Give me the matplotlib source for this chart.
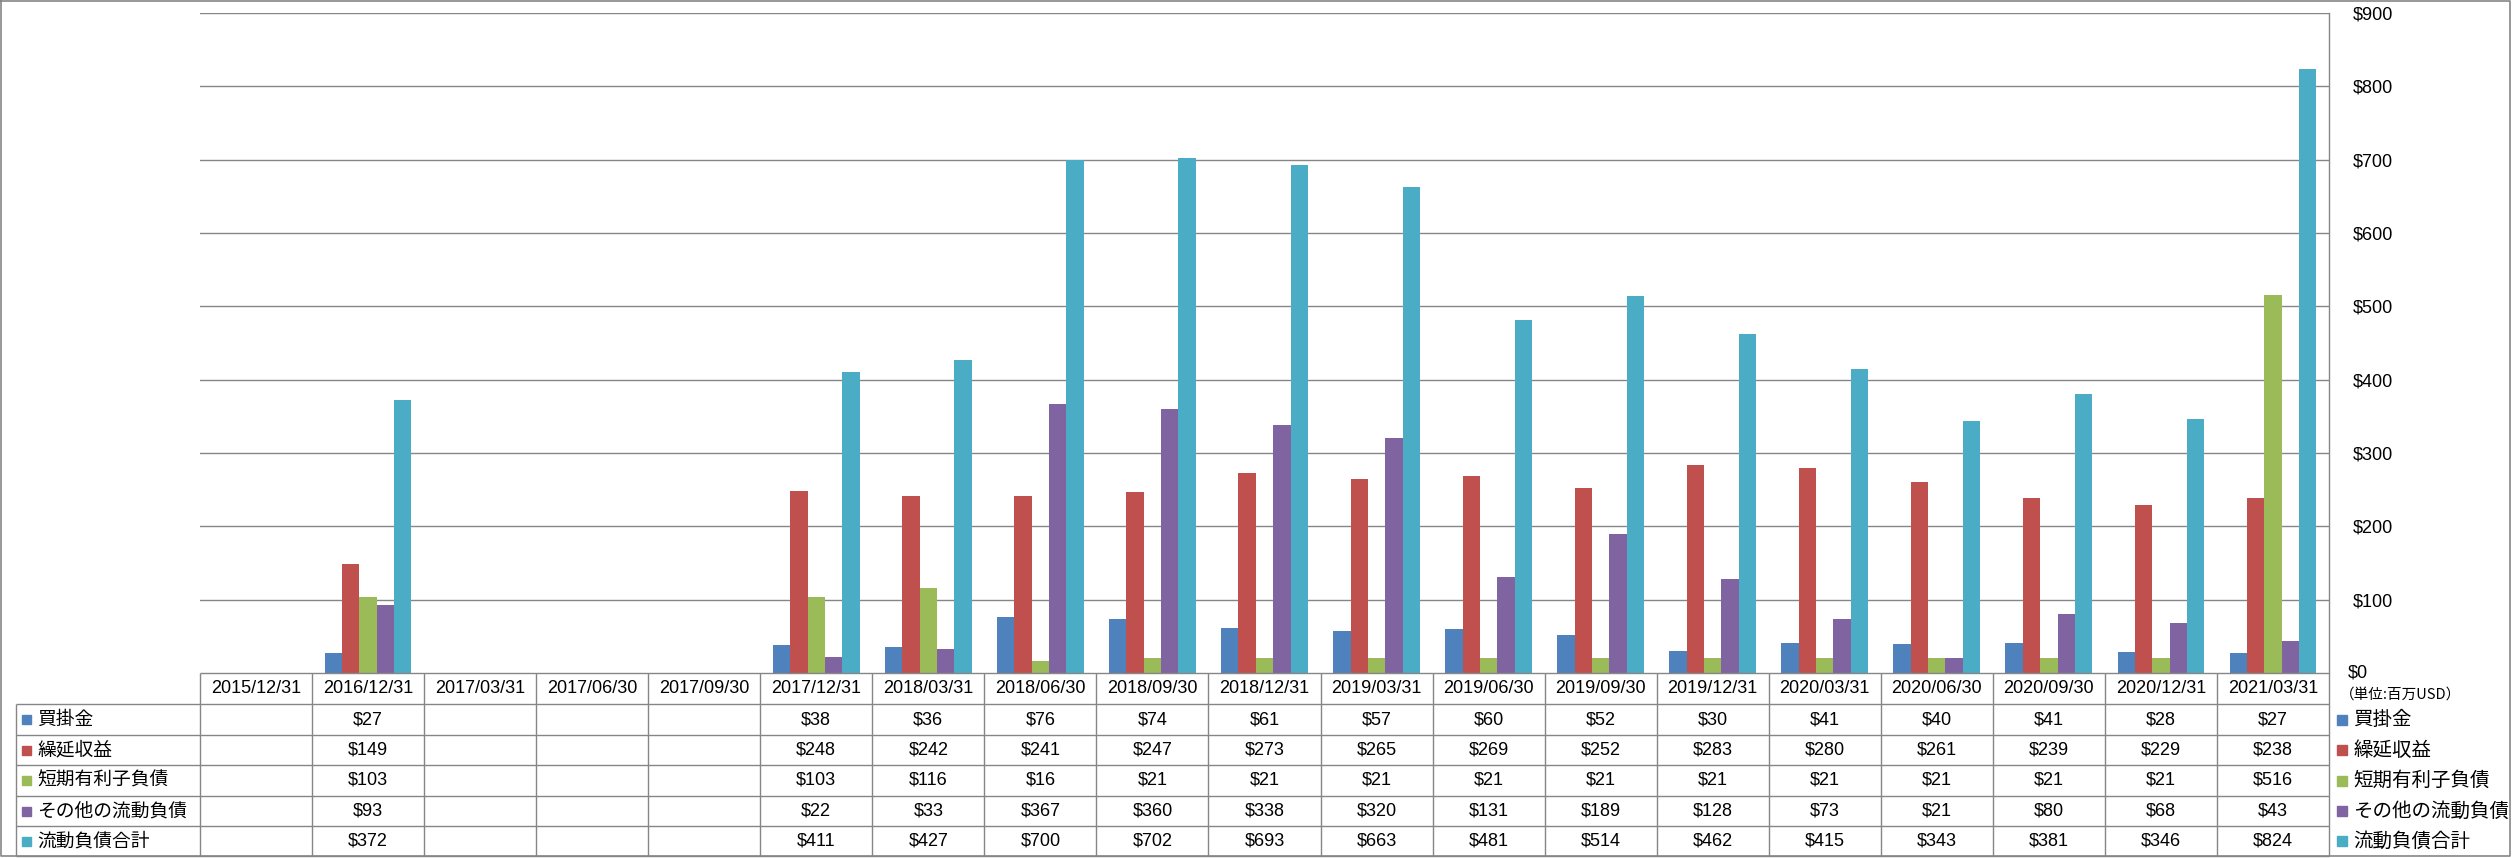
import numpy as np
import matplotlib
matplotlib.use("Agg")
import matplotlib.pyplot as plt

W, H = 2517, 858

dates = ["2015/12/31", "2016/12/31", "2017/03/31", "2017/06/30", "2017/09/30",
         "2017/12/31", "2018/03/31", "2018/06/30", "2018/09/30", "2018/12/31",
         "2019/03/31", "2019/06/30", "2019/09/30", "2019/12/31", "2020/03/31",
         "2020/06/30", "2020/09/30", "2020/12/31", "2021/03/31"]
nan = np.nan
payables = [nan, 27, nan, nan, nan, 38, 36, 76, 74, 61, 57, 60, 52, 30, 41, 40, 41, 28, 27]
deferred = [nan, 149, nan, nan, nan, 248, 242, 241, 247, 273, 265, 269, 252, 283, 280, 261, 239, 229, 238]
short_debt = [nan, 103, nan, nan, nan, 103, 116, 16, 21, 21, 21, 21, 21, 21, 21, 21, 21, 21, 516]
other = [nan, 93, nan, nan, nan, 22, 33, 367, 360, 338, 320, 131, 189, 128, 73, 21, 80, 68, 43]
total = [nan, 372, nan, nan, nan, 411, 427, 700, 702, 693, 663, 481, 514, 462, 415, 343, 381, 346, 824]

names = ["買掛金", "繰延収益", "短期有利子負債", "その他の流動負債", "流動負債合計"]
series = [payables, deferred, short_debt, other, total]
colors = ["#4F81BD", "#C0504D", "#9BBB59", "#8064A2", "#4BACC6"]

plt.rcParams['font.family'] = ['Liberation Sans', 'Noto Sans CJK JP', 'DejaVu Sans']
jp = ['Noto Sans CJK JP', 'DejaVu Sans']
grid_c = "#868686"

fig = plt.figure(figsize=(W / 100, H / 100), dpi=100)

# plot area in pixels
x0, x1 = 200, 2329
ytop, ybot = 13, 673
ax = fig.add_axes([x0 / W, 1 - ybot / H, (x1 - x0) / W, (ybot - ytop) / H])
n = len(dates)
x = np.arange(n)
bw = 0.155
for i, (vals, c) in enumerate(zip(series, colors)):
    ax.bar(x + (i - 2) * bw, vals, width=bw, color=c, zorder=3)

ax.set_xlim(-0.5, n - 0.5)
ax.set_ylim(0, 900)
ax.set_yticks(range(100, 901, 100))
ax.yaxis.tick_right()
ax.set_yticklabels([f"${v}" for v in range(100, 901, 100)], fontsize=13)
ax.tick_params(axis='y', length=0, pad=17)
ax.set_xticks([])
ax.yaxis.grid(True, color=grid_c, lw=1, zorder=0)
for s in ["left", "top", "bottom"]:
    ax.spines[s].set_visible(False)
ax.spines["right"].set_color(grid_c)
ax.spines["right"].set_linewidth(1)

# table overlay in pixel coordinates
t = fig.add_axes([0, 0, 1, 1], facecolor="none")
t.set_xlim(0, W)
t.set_ylim(H, 0)
t.axis("off")

cw = (x1 - x0) / n
rows = [673, 704, 735, 765, 796, 826, 856]
lab_x0 = 16

# outer border
t.plot([1, 2510, 2510, 1, 1], [1, 1, 856, 856, 1], color=grid_c, lw=1.2)

t.hlines(rows[0], x0, x1, color=grid_c, lw=1)
t.hlines(rows[1:], lab_x0, x1, color=grid_c, lw=1)
t.vlines(lab_x0, rows[1], rows[-1], color=grid_c, lw=1)
for k in range(n + 1):
    t.vlines(x0 + k * cw, rows[0], rows[-1], color=grid_c, lw=1)

for k, d in enumerate(dates):
    t.text(x0 + (k + 0.5) * cw, (rows[0] + rows[1]) / 2, d, ha="center",
           va="center", fontsize=13)

for r, (name, vals, c) in enumerate(zip(names, series, colors)):
    yc = (rows[r + 1] + rows[r + 2]) / 2
    t.add_patch(plt.Rectangle((22, yc - 4.5), 9, 9, color=c))
    t.text(37, yc, name, ha="left", va="center", fontsize=13.5, family=jp)
    for k, v in enumerate(vals):
        if not np.isnan(v):
            t.text(x0 + (k + 0.5) * cw, yc, f"${int(v)}", ha="center",
                   va="center", fontsize=13)
    # right-side legend
    t.add_patch(plt.Rectangle((2337, yc - 5), 10, 10, color=c))
    t.text(2353, yc, name, ha="left", va="center", fontsize=14, family=jp)

t.text(2348, 673, "$0", ha="left", va="center", fontsize=13)
t.text(2340, 695, "（単位:百万USD）", ha="left", va="center", fontsize=10.5, family=jp)

fig.savefig("out.png", dpi=100)
